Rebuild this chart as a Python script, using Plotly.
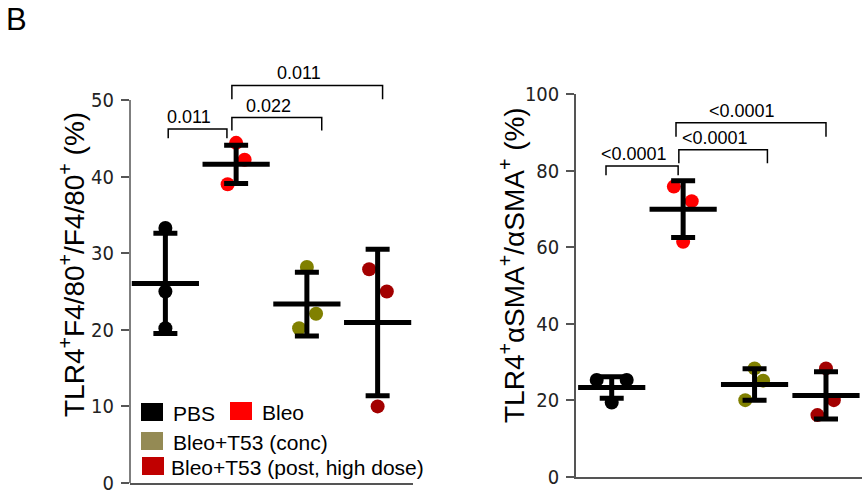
import plotly.graph_objects as go

# ---------------- data ----------------
groups = ["PBS", "Bleo", "Bleo+T53 (conc)", "Bleo+T53 (post, high dose)"]
group_x = [1, 2, 3, 4]

left_points = [[33.3, 25.0, 20.2], [44.4, 42.2, 39.0], [28.2, 22.1, 20.2], [27.9, 25.0, 10.0]]
left_jitter = [[0, 0, 0], [0, 0.12, -0.12], [0, 0.13, -0.11], [-0.12, 0.13, 0]]
left_mean = [26.05, 41.6, 23.35, 20.95]
left_sd = [6.55, 2.5, 4.15, 9.55]

right_points = [[25.3, 25.3, 19.4], [75.8, 72.0, 61.4], [28.3, 25.1, 20.0], [28.3, 20.0, 16.1]]
right_jitter = [[-0.21, 0.21, 0], [-0.13, 0.12, 0], [0, 0.12, -0.13], [0, 0.11, -0.12]]
right_mean = [23.3, 69.9, 24.1, 21.25]
right_sd = [2.8, 7.4, 4.1, 6.15]

left_pvals = ["0.011", "0.022", "0.011"]
right_pvals = ["<0.0001", "<0.0001", "<0.0001"]

left_ticks = [0, 10, 20, 30, 40, 50]
right_ticks = [0, 20, 40, 60, 80, 100]

# ---------------- style ----------------
point_colors = ["#000000", "#ff0000", "#808000", "#a30000"]
legend_colors = ["#000000", "#ff0000", "#948a54", "#c00000"]
W, H = 864, 497
AX = "#555555"
TICKFONT = dict(family="DejaVu Sans Condensed, Liberation Sans Narrow, Arial", size=20, color="#222222")


def px2x(p):
    return p / W


def px2y(p):
    return 1 - p / H


fig = go.Figure()


def add_panel(points, jitter, mean, sd, xa, ya):
    for i in range(len(groups)):
        fig.add_trace(go.Scatter(
            x=[group_x[i] + j for j in jitter[i]], y=points[i], mode="markers",
            marker=dict(symbol="circle", size=14, color=point_colors[i], line=dict(width=0)),
            xaxis=xa, yaxis=ya, showlegend=False, cliponaxis=False, hoverinfo="y"))
    fig.add_trace(go.Scatter(
        x=group_x, y=mean, mode="markers",
        marker=dict(symbol="line-ew", size=48, line=dict(width=5, color="black")),
        error_y=dict(type="data", array=sd, visible=True, thickness=5, width=12, color="black"),
        xaxis=xa, yaxis=ya, showlegend=False, cliponaxis=False))


add_panel(left_points, left_jitter, left_mean, left_sd, "x", "y")
add_panel(right_points, right_jitter, right_mean, right_sd, "x2", "y2")

shapes = []
annotations = []

# bracket geometry: (bar height, leg bottom, x start, x end)
left_geom = [(46.2, 45.0, 1.04, 1.87), (47.7, 46.0, 1.94, 3.21), (51.9, 50.1, 1.94, 4.07)]
right_geom = [(81.2, 78.8, 0.92, 1.93), (85.4, 81.9, 1.94, 3.18), (92.5, 88.8, 1.90, 4.0)]


def add_brackets(geom, pvals, xa, ya):
    for (yh, yl, x0, x1), p in zip(geom, pvals):
        path = f"M {x0},{yl} L {x0},{yh} L {x1},{yh} L {x1},{yl}"
        shapes.append(dict(type="path", path=path, xref=xa, yref=ya,
                           line=dict(color="black", width=1.5)))
        annotations.append(dict(x=(x0 + x1) / 2 - 0.12, y=yh, xref=xa, yref=ya, text=p,
                                showarrow=False, xanchor="center", yanchor="bottom", yshift=0,
                                font=dict(family="Liberation Sans, Arial", size=18, color="black")))


add_brackets(left_geom, left_pvals, "x", "y")
add_brackets(right_geom, right_pvals, "x2", "y2")

# left y-axis line only up to 50
shapes.append(dict(type="line", xref="x domain", yref="y", x0=0, x1=0, y0=0, y1=50,
                   line=dict(color=AX, width=1.5)))

# axis titles
annotations.append(dict(x=px2x(72), y=px2y(265), xref="paper", yref="paper", textangle=-90,
                        xanchor="center", yanchor="middle",
                        text="TLR4<sup>+</sup>F4/80<sup>+</sup>/F4/80<sup>+</sup> (%)", showarrow=False,
                        font=dict(family="Liberation Sans, Arial", size=28, color="black")))
annotations.append(dict(x=px2x(512), y=px2y(265), xref="paper", yref="paper", textangle=-90,
                        xanchor="center", yanchor="middle",
                        text="TLR4<sup>+</sup>αSMA<sup>+</sup>/αSMA<sup>+</sup> (%)", showarrow=False,
                        font=dict(family="Liberation Sans, Arial", size=28, color="black")))

# panel label
annotations.append(dict(x=px2x(4), y=px2y(0), xref="paper", yref="paper", text="B",
                        showarrow=False, xanchor="left", yanchor="top",
                        font=dict(family="Liberation Sans, Arial", size=31, color="black")))

# manual legend
leg_items = [(0, 141, 403, 171), (1, 230, 402, 260), (2, 141, 432, 171), (3, 142, 457, 169)]
for gi, sx, sy, tx in leg_items:
    shapes.append(dict(type="rect", xref="paper", yref="paper",
                       x0=px2x(sx), x1=px2x(sx + 22), y0=px2y(sy + 18), y1=px2y(sy),
                       fillcolor=legend_colors[gi], line=dict(width=0)))
    annotations.append(dict(x=px2x(tx), y=px2y(sy + 10), xref="paper", yref="paper",
                            text=groups[gi], showarrow=False, xanchor="left", yanchor="middle",
                            font=dict(family="Liberation Sans, Arial", size=21, color="black")))

common_x = dict(range=[0.5, 4.5], showline=True, linecolor=AX, linewidth=1.5, showgrid=False,
                zeroline=False, showticklabels=False, ticks="", automargin=False)

fig.update_layout(
    width=W, height=H, margin=dict(l=0, r=0, t=0, b=0, autoexpand=False),
    paper_bgcolor="white", plot_bgcolor="white", showlegend=False,
    xaxis=dict(domain=[px2x(130), px2x(413)], anchor="y", **common_x),
    yaxis=dict(domain=[px2y(483), px2y(80.8)], anchor="x", range=[0, 52.5], tickvals=left_ticks,
               showline=False, ticks="outside", ticklen=8, tickwidth=1.5, tickcolor=AX,
               ticklabelstandoff=3, automargin=False,
               showgrid=False, zeroline=False, tickfont=TICKFONT),
    xaxis2=dict(domain=[px2x(576), px2x(861.7)], anchor="y2", **common_x),
    yaxis2=dict(domain=[px2y(476.7), px2y(94)], anchor="x2", range=[0, 100], tickvals=right_ticks,
                showline=True, linecolor=AX, linewidth=1.5, ticks="outside", ticklen=8, tickwidth=1.5,
                ticklabelstandoff=3, automargin=False,
                tickcolor=AX, showgrid=False, zeroline=False, tickfont=TICKFONT),
    shapes=shapes, annotations=annotations,
)

fig.write_html("out.html", post_script="document.body.style.margin='0px';",
               config={"displayModeBar": False})
